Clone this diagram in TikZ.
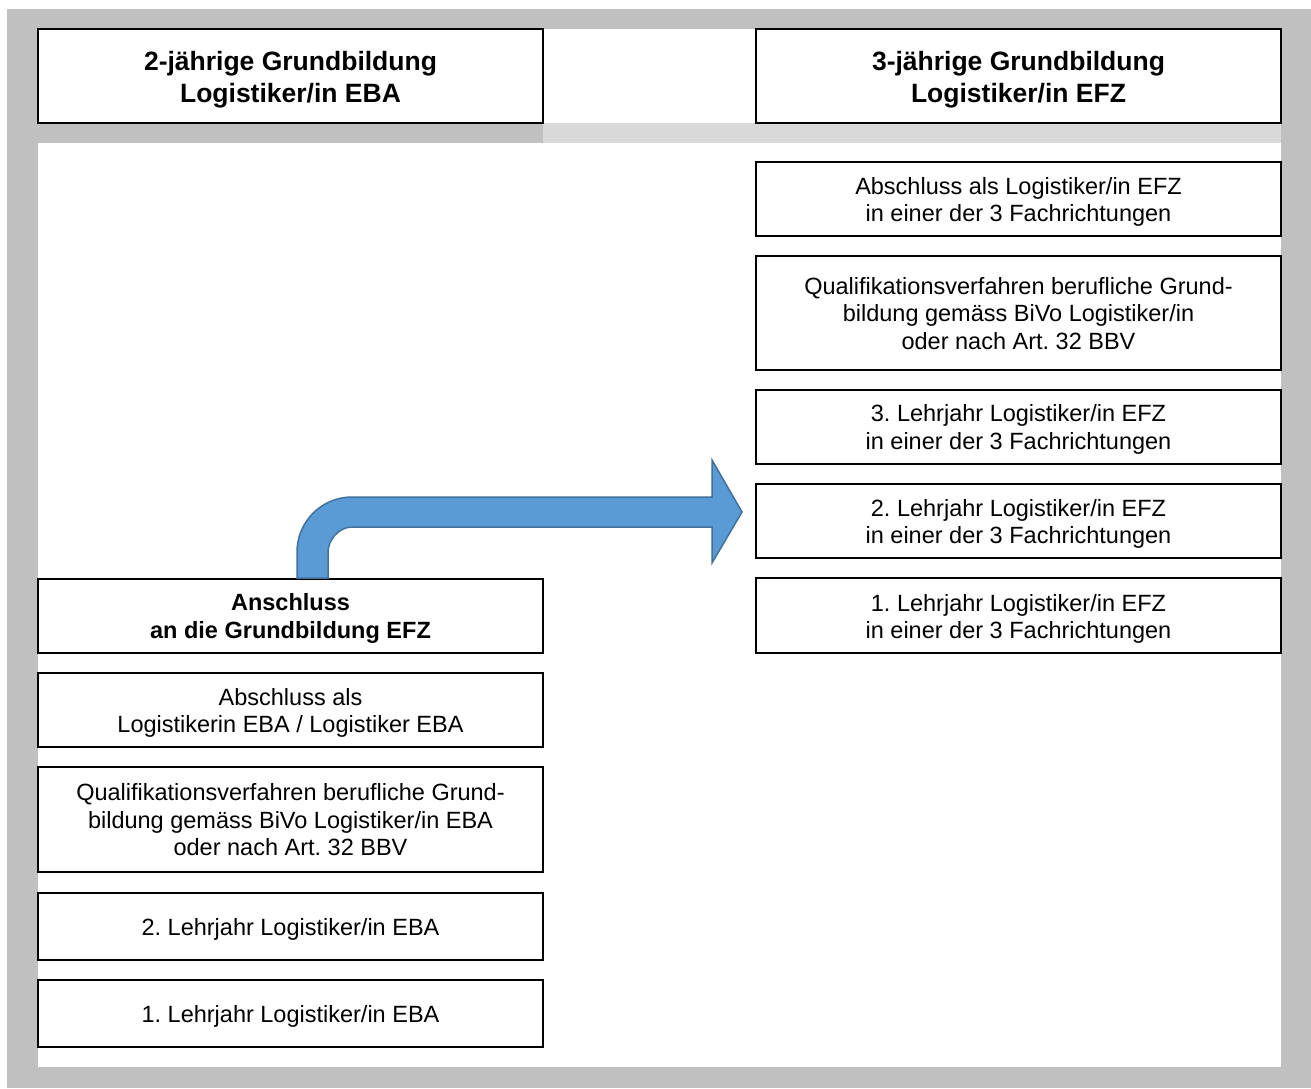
\documentclass[tikz,border=0pt]{standalone}
\usepackage{fontspec}
\setmainfont{Liberation Sans}
\frenchspacing
\definecolor{frame}{HTML}{C0C0C0}
\definecolor{band}{HTML}{D9D9D9}
\definecolor{arrowfill}{HTML}{5B9BD5}
\definecolor{arrowline}{HTML}{41719C}
% #1 name, #2 column style, #3 text style, #4 x, #5 y, #6 height, #7 text shift, #8 text
\newcommand\stagebox[8]{%
  \node[box, #2, minimum height=#6pt] (#1) at (#4,#5) {};
  \node[#3, yshift=-#7pt] (#1t) at (#1.center) {#8};}
\begin{document}
\begin{tikzpicture}[x=1pt,y=-1pt,
  box/.style={draw=black, line width=2pt, fill=white, inner sep=0pt},
  btext/.style={align=center, inner sep=0pt, font=\fontsize{23.5}{27.5}\selectfont\frenchspacing},
  htext/.style={align=center, inner sep=0pt, font=\fontsize{26.5}{32}\selectfont\bfseries\frenchspacing},
  bbtext/.style={align=center, inner sep=0pt, font=\fontsize{23.5}{28}\selectfont\bfseries\frenchspacing},
  lcol/.style={minimum width=505pt},
  rcol/.style={minimum width=525pt}]
\useasboundingbox (0,0) rectangle (1311,1088);
% background
\fill[white] (0,0) rectangle (1311,1088);
\fill[frame] (7,9) rectangle (1311,1088);
\fill[white] (38,143) rectangle (1281,1067);
\fill[white] (543,29) rectangle (756,123);
\fill[band] (543,123) rectangle (1281,143);
% headers
\stagebox{h1}{lcol}{htext}{290.5}{76}{94}{4}{2-jährige Grundbildung\\Logistiker/in EBA}
\stagebox{h2}{rcol}{htext}{1018.5}{76}{94}{4}{3-jährige Grundbildung\\Logistiker/in EFZ}
% left column
\stagebox{l1}{lcol}{bbtext}{290.5}{616}{74}{2}{Anschluss\\an die Grundbildung EFZ}
\stagebox{l2}{lcol}{btext}{290.5}{710}{74}{3}{Abschluss als\\Logistikerin EBA / Logistiker EBA}
\stagebox{l3}{lcol}{btext}{290.5}{819.5}{105}{0.5}{Qualifikationsverfahren berufliche Grund-\\bildung gemäss BiVo Logistiker/in EBA\\oder nach Art. 32 BBV}
\stagebox{l4}{lcol}{btext}{290.5}{926.5}{67}{3}{2. Lehrjahr Logistiker/in EBA}
\stagebox{l5}{lcol}{btext}{290.5}{1013.5}{67}{3}{1. Lehrjahr Logistiker/in EBA}
% right column
\stagebox{r1}{rcol}{btext}{1018.5}{199}{74}{3}{Abschluss als Logistiker/in EFZ\\in einer der 3 Fachrichtungen}
\stagebox{r2}{rcol}{btext}{1018.5}{313}{114}{0.5}{Qualifikationsverfahren berufliche Grund-\\bildung gemäss BiVo Logistiker/in\\oder nach Art. 32 BBV}
\stagebox{r3}{rcol}{btext}{1018.5}{427}{74}{2.5}{3. Lehrjahr Logistiker/in EFZ\\in einer der 3 Fachrichtungen}
\stagebox{r4}{rcol}{btext}{1018.5}{521}{74}{3}{2. Lehrjahr Logistiker/in EFZ\\in einer der 3 Fachrichtungen}
\stagebox{r5}{rcol}{btext}{1018.5}{615.5}{75}{3.5}{1. Lehrjahr Logistiker/in EFZ\\in einer der 3 Fachrichtungen}
% bent block arrow from the Anschluss box to the EFZ column
\draw[fill=arrowfill, draw=arrowline, line width=1.5pt, line join=miter]
  (297,578) -- (297,552)
  .. controls (297,521.6) and (321.6,497) .. (352,497)
  -- (712,497) -- (712,460) -- (742,512) -- (712,563) -- (712,527)
  -- (352,527)
  .. controls (338.2,527) and (328,540.8) .. (328,552)
  -- (328,578) -- cycle;
\end{tikzpicture}
\end{document}
